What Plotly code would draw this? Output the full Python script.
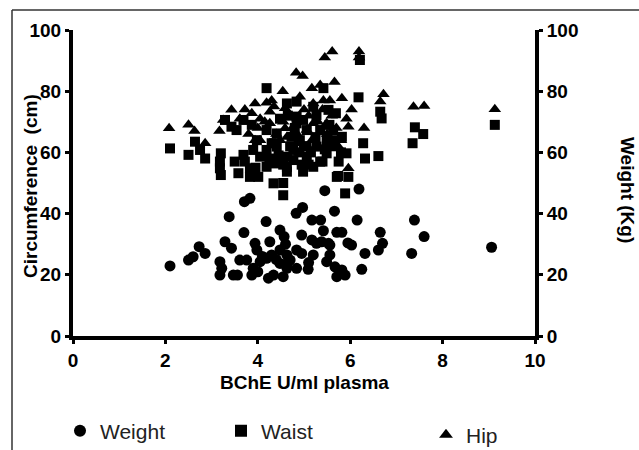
import plotly.graph_objects as go

# ---- data ----
weight_x = [2.10, 2.50, 2.60, 2.73, 2.86, 3.18, 3.22, 3.18, 3.29, 3.43, 3.38, 3.70, 3.71, 3.83,
            3.47, 3.56, 3.61, 3.76, 3.94, 3.98, 3.90, 3.87, 4.18, 4.26, 4.19, 4.05, 4.48, 4.48,
            4.23, 4.34, 4.63, 4.48, 4.55, 4.63, 4.63, 4.70, 4.83, 4.97, 5.17, 5.36, 5.66, 5.45,
            6.19, 6.15, 7.39, 5.42, 5.71, 5.82, 6.65, 6.70, 6.61, 6.32, 6.25, 7.33, 4.95, 5.17,
            5.27, 4.84, 4.95, 5.20, 5.56, 5.56, 5.49, 5.67, 5.82, 5.71, 5.89, 4.84, 5.09, 5.95,
            6.03, 7.60, 9.06, 4.40, 4.10, 4.30, 4.60, 4.57, 5.38, 5.53, 5.10, 4.00]
weight_y = [22.9, 24.8, 25.9, 29.2, 27.0, 24.3, 22.1, 19.9, 30.8, 28.7, 39.0, 33.8, 43.9, 45.0,
            19.9, 19.9, 24.8, 24.8, 30.3, 28.1, 22.1, 19.9, 37.4, 30.8, 25.4, 24.3, 28.1, 34.6,
            18.9, 19.9, 22.1, 23.7, 19.4, 23.7, 26.5, 24.8, 40.1, 42.0, 37.9, 37.9, 40.8, 47.5,
            48.0, 37.9, 37.9, 34.4, 33.9, 33.9, 33.9, 30.3, 28.1, 27.0, 21.8, 27.0, 33.0, 31.4,
            30.3, 28.1, 27.0, 26.5, 29.7, 26.5, 24.3, 22.6, 21.6, 19.4, 19.9, 22.1, 21.8, 30.4,
            29.7, 32.5, 29.0, 25.0, 26.0, 26.5, 30.0, 32.5, 30.8, 30.3, 24.0, 21.0]

waist_x = [2.10, 2.50, 2.64, 2.75, 2.86, 3.20, 3.18, 3.18, 3.20, 3.29, 3.43, 3.54, 3.50, 3.58,
           3.72, 3.83, 4.01, 3.90, 4.05, 4.19, 3.87, 3.69, 4.34, 4.55, 4.55, 4.63, 4.19, 4.37,
           4.77, 4.77, 4.84, 5.42, 4.63, 4.98, 5.27, 5.53, 5.69, 6.18, 6.21, 6.28, 6.32, 6.65,
           6.68, 6.61, 5.89, 5.71, 5.96, 5.27, 5.49, 5.63, 5.82, 5.06, 5.20, 4.98, 4.63, 4.19,
           4.41, 4.91, 5.06, 5.35, 5.20, 4.84, 4.48, 4.19, 3.98, 4.41, 4.73, 5.49, 4.63, 3.83,
           3.69, 4.84, 5.92, 7.40, 7.58, 7.35, 9.13, 5.74, 5.00, 5.10, 4.30, 4.90, 5.35, 5.60,
           4.45, 4.70, 4.95, 5.15, 5.40, 5.65, 5.80, 4.25, 4.55, 5.25, 5.55, 5.05, 4.80, 3.95,
           5.75, 5.45, 4.35, 4.65]
waist_y = [61.3, 59.2, 63.5, 60.8, 58.0, 59.7, 57.0, 54.8, 52.6, 70.6, 68.4, 67.3, 57.0, 53.2,
           57.0, 52.0, 52.0, 60.8, 58.6, 81.0, 69.0, 70.6, 49.9, 46.0, 50.0, 53.7, 55.3, 56.4,
           57.5, 60.8, 76.6, 81.0, 76.0, 70.6, 72.2, 73.9, 72.8, 78.0, 90.2, 63.0, 58.0, 73.3,
           71.1, 58.8, 46.6, 52.0, 52.0, 61.9, 64.0, 67.3, 65.1, 58.6, 55.3, 53.7, 58.6, 60.8,
           61.9, 64.0, 67.3, 67.3, 74.9, 71.7, 71.0, 67.3, 64.0, 66.2, 65.1, 59.7, 55.3, 54.8,
           59.2, 69.5, 59.7, 68.2, 66.0, 63.0, 69.0, 52.3, 62.0, 56.0, 63.0, 60.0, 57.0, 62.0,
           59.0, 62.0, 56.0, 60.0, 57.0, 64.0, 60.0, 58.0, 56.0, 65.0, 69.0, 62.0, 68.0, 55.0,
           57.0, 61.0, 63.0, 72.0]

hip_x = [2.08, 2.50, 2.63, 2.86, 3.17, 3.43, 3.72, 3.94, 4.19, 4.30, 4.54, 4.83, 4.97, 5.17,
         5.35, 5.66, 5.45, 5.61, 6.19, 6.72, 6.65, 6.30, 6.03, 5.92, 5.96, 5.74, 5.82, 4.91,
         5.20, 5.42, 5.56, 4.59, 4.26, 4.05, 3.87, 3.61, 3.25, 3.94, 4.05, 4.59, 5.20, 5.49,
         5.17, 4.84, 4.26, 4.48, 4.63, 5.96, 5.06, 7.37, 7.60, 9.13, 6.19, 4.70, 5.00, 5.30,
         5.60, 4.40, 3.80, 4.90, 4.15, 4.75, 5.10, 5.40, 5.70, 4.35, 4.85, 5.25, 5.50, 4.00,
         4.55, 5.80]
hip_y = [67.9, 69.0, 67.0, 63.0, 67.0, 73.9, 74.0, 76.0, 76.2, 77.0, 80.0, 86.0, 85.0, 81.0,
         82.0, 83.0, 91.0, 93.0, 93.0, 79.0, 76.6, 68.0, 74.0, 71.0, 54.8, 62.0, 77.7, 78.2,
         76.0, 77.0, 77.0, 74.4, 73.3, 71.0, 72.8, 71.0, 70.6, 64.0, 64.0, 67.9, 69.5, 69.5,
         64.0, 63.0, 69.5, 64.0, 65.0, 68.4, 67.3, 74.9, 75.2, 74.1, 91.0, 72.0, 74.0, 70.0,
         72.0, 66.0, 66.0, 60.0, 70.0, 68.0, 72.0, 74.0, 68.0, 75.0, 66.0, 62.0, 66.0, 68.0,
         70.0, 64.0]

x_ticks = [0, 2, 4, 6, 8, 10]
y_ticks = [0, 20, 40, 60, 80, 100]

fig = go.Figure()
fig.add_trace(go.Scatter(x=weight_x, y=weight_y, mode="markers", name="Weight",
                         marker=dict(symbol="circle", size=11, color="black"),
                         legend="legend"))
fig.add_trace(go.Scatter(x=waist_x, y=waist_y, mode="markers", name="Waist",
                         marker=dict(symbol="square", size=10, color="black"),
                         legend="legend2"))
fig.add_trace(go.Scatter(x=hip_x, y=hip_y, mode="markers", name="Hip",
                         marker=dict(symbol="triangle-up", size=11, color="black"),
                         legend="legend3"))
# right axis carrier (invisible)
fig.add_trace(go.Scatter(x=[None], y=[None], yaxis="y2", showlegend=False, hoverinfo="skip"))

tickfont = dict(family="Liberation Sans", size=19, color="black", weight="bold")
titlefont = dict(family="Liberation Sans", size=19, color="black", weight="bold")
legfont = dict(family="Liberation Sans", size=21, color="#222")

W, H = 639, 450
L, R, T, B = 73, 535, 30, 336
pw, ph = R - L, B - T

def px2x(p):
    return (p - L) / pw

def px2y(p):
    return (B - p) / ph

fig.update_layout(
    width=W, height=H,
    margin=dict(l=L, r=W - R, t=T, b=H - B, autoexpand=False),
    paper_bgcolor="white", plot_bgcolor="white",
    xaxis=dict(range=[0, 10], tickvals=x_ticks, ticktext=[str(v) for v in x_ticks],
               showline=True, linewidth=4, linecolor="black", showgrid=False, zeroline=False,
               ticks="outside", ticklen=4, tickwidth=3, tickcolor="black", tickfont=tickfont,
               automargin=False),
    yaxis=dict(range=[0, 100], tickvals=y_ticks, ticktext=[str(v) for v in y_ticks],
               showline=True, linewidth=4, linecolor="black", showgrid=False, zeroline=False,
               ticks="outside", ticklen=4, tickwidth=3, tickcolor="black", tickfont=tickfont,
               automargin=False),
    yaxis2=dict(range=[0, 100], tickvals=y_ticks, ticktext=[str(v) for v in y_ticks],
                overlaying="y", side="right", anchor="x",
                showline=True, linewidth=4, linecolor="black", showgrid=False, zeroline=False,
                ticks="outside", ticklen=4, tickwidth=3, tickcolor="black", tickfont=tickfont,
                automargin=False),
    legend=dict(x=px2x(60), y=px2y(431), xanchor="left", yanchor="middle",
                font=legfont, bgcolor="rgba(0,0,0,0)", itemsizing="constant"),
    legend2=dict(x=px2x(221), y=px2y(431), xanchor="left", yanchor="middle",
                 font=legfont, bgcolor="rgba(0,0,0,0)", itemsizing="constant"),
    legend3=dict(x=px2x(426), y=px2y(435), xanchor="left", yanchor="middle",
                 font=legfont, bgcolor="rgba(0,0,0,0)", itemsizing="constant"),
    showlegend=True,
)

fig.add_annotation(text="Circumference  (cm)", x=px2x(30), y=px2y(186), xref="paper", yref="paper",
                   showarrow=False, font=titlefont, textangle=-90, xanchor="center", yanchor="middle")
fig.add_annotation(text="BChE U/ml plasma", x=px2x(304), y=px2y(383), xref="paper", yref="paper",
                   showarrow=False, font=titlefont, xanchor="center", yanchor="middle")
fig.add_annotation(text="Weight (Kg)", x=px2x(627), y=px2y(190), xref="paper", yref="paper",
                   showarrow=False, font=titlefont, textangle=90, xanchor="center", yanchor="middle")

# outer frame (left and top edges)
fig.add_shape(type="line", xref="paper", yref="paper", x0=px2x(12), x1=px2x(12),
              y0=px2y(10), y1=px2y(452), line=dict(color="#333", width=1.5))
fig.add_shape(type="line", xref="paper", yref="paper", x0=px2x(12), x1=px2x(641),
              y0=px2y(10), y1=px2y(10), line=dict(color="#333", width=1.5))

fig.write_html("out.html", config={"displayModeBar": False},
               post_script="document.body.style.margin='0';document.body.style.overflow='hidden';")
